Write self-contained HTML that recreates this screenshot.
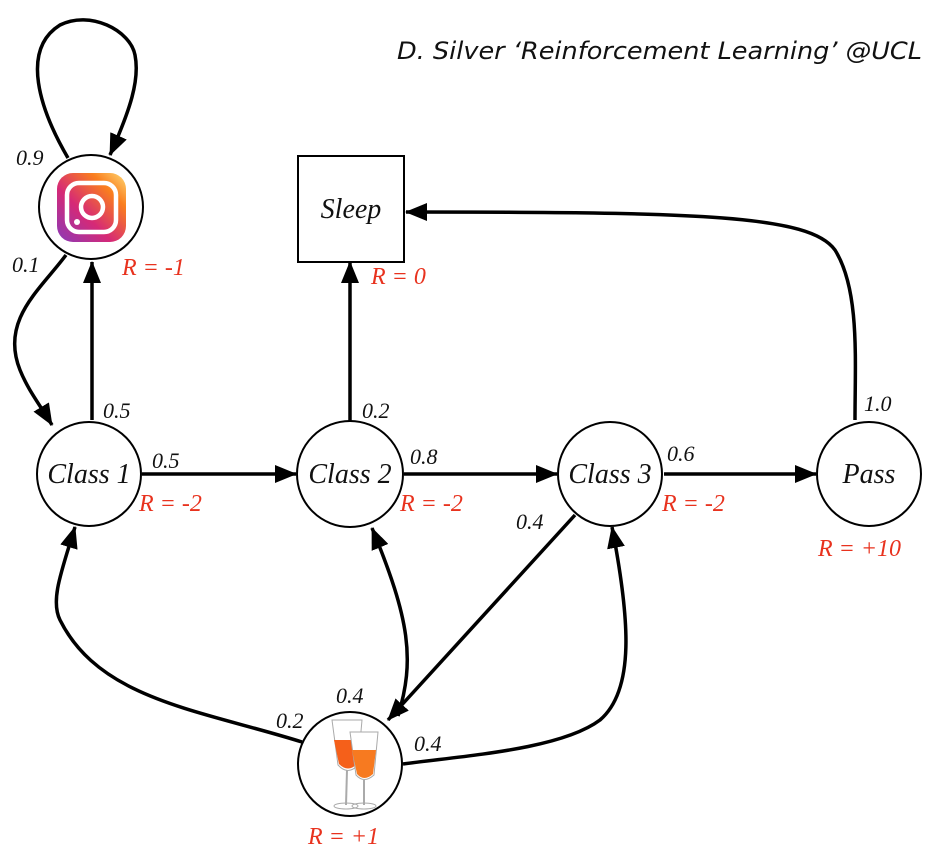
<!DOCTYPE html>
<html><head><style>body{margin:0;background:#fff}svg{display:block}
.t{font-family:"Liberation Serif",serif;font-style:italic;font-size:22px;fill:#111}
.n{font-family:"Liberation Serif",serif;font-style:italic;font-size:28px;fill:#111}
.r{font-family:"Liberation Serif",serif;font-style:italic;font-size:24px;fill:#e8321e}
</style></head><body>
<svg width="934" height="864" viewBox="0 0 934 864" xmlns="http://www.w3.org/2000/svg">
<defs>
<marker id="a" markerWidth="22" markerHeight="18" refX="21" refY="9" orient="auto" markerUnits="userSpaceOnUse" viewBox="0 0 22 18"><path d="M0,0 L22,9 L0,18z" fill="#000"/></marker>
<linearGradient id="ig" x1="0" y1="1" x2="1" y2="0"><stop offset="0" stop-color="#8a3ab9"/><stop offset="0.4" stop-color="#d62976"/><stop offset="0.75" stop-color="#fa7e1e"/><stop offset="1" stop-color="#feda75"/></linearGradient>
</defs>
<g fill="none" stroke="#000" stroke-width="3.5">
<path d="M68,158 C40,110 20,50 60,25 C90,10 130,30 135,55 C140,80 130,110 110,155" marker-end="url(#a)"/>
<path d="M66,255 C40,290 0,320 20,370 C28,390 40,405 52,425" marker-end="url(#a)"/>
<path d="M92,420 L92,262" marker-end="url(#a)"/>
<path d="M350,421 L350,262" marker-end="url(#a)"/>
<path d="M855,420 C855,360 860,290 835,250 C810,215 700,212 406,212" marker-end="url(#a)"/>
<path d="M142,474 L296,474" marker-end="url(#a)"/>
<path d="M404,474 L557,474" marker-end="url(#a)"/>
<path d="M664,474 L816,474" marker-end="url(#a)"/>
<path d="M575,515 L388,720" marker-end="url(#a)"/>
<path d="M302,742 C200,710 100,700 60,620 C50,600 62,570 75,527" marker-end="url(#a)"/>
<path d="M398,716 C415,660 410,620 372,528" marker-end="url(#a)"/>
<path d="M403,764 C460,756 560,750 600,720 C635,690 630,620 612,527" marker-end="url(#a)"/>
</g>
<g fill="#fff" stroke="#000" stroke-width="2">
<circle cx="91" cy="207" r="52"/>
<circle cx="89" cy="474" r="52"/>
<circle cx="350" cy="474" r="53"/>
<circle cx="610" cy="474" r="52"/>
<circle cx="869" cy="474" r="52"/>
<circle cx="350" cy="764" r="52"/>
<rect x="298" y="156" width="106" height="106"/>
</g>
<rect x="57" y="173" width="69" height="69" rx="16" fill="url(#ig)"/>
<rect x="67" y="183" width="49" height="49" rx="12" fill="none" stroke="#fff" stroke-width="4.5"/>
<circle cx="92" cy="207" r="11" fill="none" stroke="#fff" stroke-width="4.5"/>
<circle cx="77" cy="222" r="3" fill="#fff"/>
<g>
<path d="M332,720 L362,720 L358,765 Q348,776 338,765z" fill="#fff" stroke="#aaa"/>
<path d="M334,740 L360,740 L357,764 Q348,773 339,764z" fill="#f5601a"/>
<path d="M350,732 L378,732 L374,775 Q364,784 356,775z" fill="#fff" stroke="#aaa"/>
<path d="M352,750 L376,750 L373,774 Q364,782 357,774z" fill="#f77a20"/>
<line x1="347" y1="770" x2="346" y2="805" stroke="#aaa" stroke-width="2"/>
<line x1="364" y1="780" x2="364" y2="805" stroke="#aaa" stroke-width="2"/>
<ellipse cx="346" cy="806" rx="12" ry="3" fill="none" stroke="#aaa"/>
<ellipse cx="364" cy="806" rx="12" ry="3" fill="none" stroke="#aaa"/>
</g>
<text class="n" x="89" y="483" text-anchor="middle">Class 1</text>
<text class="n" x="350" y="483" text-anchor="middle">Class 2</text>
<text class="n" x="610" y="483" text-anchor="middle">Class 3</text>
<text class="n" x="869" y="483" text-anchor="middle">Pass</text>
<text class="n" x="351" y="218" text-anchor="middle">Sleep</text>
<text class="t" x="16" y="165">0.9</text>
<text class="t" x="12" y="272">0.1</text>
<text class="t" x="103" y="418">0.5</text>
<text class="t" x="152" y="468">0.5</text>
<text class="t" x="362" y="418">0.2</text>
<text class="t" x="410" y="464">0.8</text>
<text class="t" x="667" y="461">0.6</text>
<text class="t" x="864" y="411">1.0</text>
<text class="t" x="516" y="529">0.4</text>
<text class="t" x="276" y="728">0.2</text>
<text class="t" x="336" y="703">0.4</text>
<text class="t" x="414" y="751">0.4</text>
<text class="r" x="122" y="275">R = -1</text>
<text class="r" x="371" y="284">R = 0</text>
<text class="r" x="139" y="511">R = -2</text>
<text class="r" x="400" y="511">R = -2</text>
<text class="r" x="662" y="511">R = -2</text>
<text class="r" x="818" y="556">R = +10</text>
<text class="r" x="308" y="844">R = +1</text>
<text x="922" y="59" text-anchor="end" font-family="DejaVu Sans,sans-serif" font-style="italic" font-size="24" textLength="525" lengthAdjust="spacingAndGlyphs" fill="#111">D. Silver ‘Reinforcement Learning’ @UCL</text>
</svg>
</body></html>
